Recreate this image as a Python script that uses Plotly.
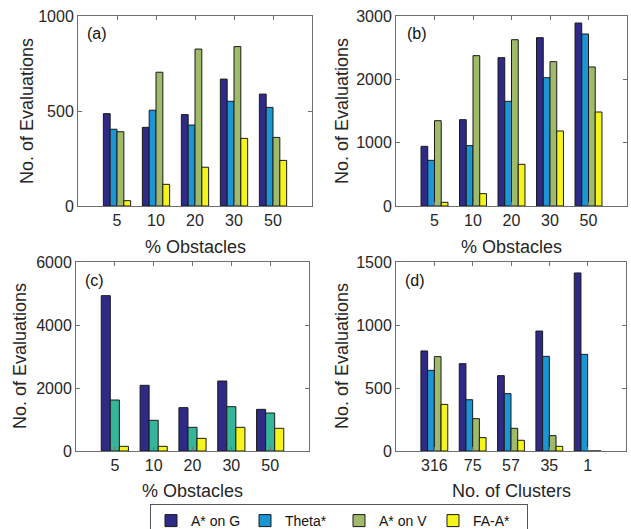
import plotly.graph_objects as go

# ---------------- data ----------------
obstacles = ["5", "10", "20", "30", "50"]
clusters = ["316", "75", "57", "35", "1"]

a_astar_g = [486, 414, 481, 668, 589]
a_theta = [404, 504, 426, 551, 519]
a_astar_v = [391, 704, 826, 839, 361]
a_fa = [28, 114, 204, 356, 240]

b_astar_g = [942, 1363, 2342, 2658, 2889]
b_theta = [721, 953, 1653, 2026, 2716]
b_astar_v = [1347, 2374, 2626, 2279, 2195]
b_fa = [58, 195, 658, 1184, 1484]

c_astar_g = [4931, 2085, 1376, 2222, 1323]
c_mid = [1619, 974, 751, 1407, 1206]
c_fa = [148, 148, 402, 751, 720]

d_astar_g = [794, 693, 598, 952, 1413]
d_theta = [640, 407, 455, 751, 767]
d_astar_v = [749, 257, 180, 122, 0]
d_fa = [370, 106, 85, 37, 0]

names = ["A* on G", "Theta*", "A* on V", "FA-A*"]
colors = ["#2e2a86", "#1b95d3", "#9fbb6a", "#f6f51a"]
teal = "#35b59a"

W, H = 631, 529
FONT = "Liberation Sans, Arial, sans-serif"
TXT = "#262626"
LINE = "#6e6e6e"

fig = go.Figure()

def px_x(v):
    return v / W

def px_y(v):
    return 1 - v / H

panels = [
    # (xaxis id, yaxis id, left, right, top, bottom)
    ("x", "y", 78, 312, 16, 206),
    ("x2", "y2", 396, 627, 16, 206),
    ("x3", "y3", 76, 309, 262, 451),
    ("x4", "y4", 396, 626, 262, 451),
]

pos = list(range(5))

def add_bars(panel_idx, series, cols, nms, show):
    xa, ya = panels[panel_idx][0], panels[panel_idx][1]
    for vals, c, n in zip(series, cols, nms):
        fig.add_trace(go.Bar(
            x=pos, y=vals, name=n, marker=dict(color=c, line=dict(color="#1a1a1a", width=1)),
            xaxis=xa, yaxis=ya, showlegend=show, legendgroup=n,
        ))

add_bars(0, [a_astar_g, a_theta, a_astar_v, a_fa], colors, names, True)
add_bars(1, [b_astar_g, b_theta, b_astar_v, b_fa], colors, names, False)
add_bars(2, [c_astar_g, c_mid, c_fa], [colors[0], teal, colors[3]], [names[0], "Theta*", names[3]], False)
add_bars(3, [d_astar_g, d_theta, d_astar_v, d_fa], colors, names, False)

yranges = [(1000, 500), (3000, 1000), (6000, 2000), (1500, 500)]
xlabels = [obstacles, obstacles, obstacles, clusters]

layout = dict(
    width=W, height=H,
    margin=dict(l=0, r=0, t=0, b=0, autoexpand=False),
    paper_bgcolor="white", plot_bgcolor="white",
    barmode="group", bargap=0.3, bargroupgap=0,
    font=dict(family=FONT, color=TXT, size=16),
    showlegend=True,
    legend=dict(
        orientation="h", x=px_x(150), xanchor="left", y=px_y(504), yanchor="top",
        bordercolor="#555555", borderwidth=1, bgcolor="white",
        font=dict(size=14, family=FONT, color="#111111"),
        itemwidth=30, tracegroupgap=0, traceorder="normal",
        entrywidth=49,
    ),
)

for i, (xa, ya, l, r, t, b) in enumerate(panels):
    xk = "xaxis" if i == 0 else f"xaxis{i+1}"
    yk = "yaxis" if i == 0 else f"yaxis{i+1}"
    ymax, dt = yranges[i]
    layout[xk] = dict(
        domain=[px_x(l), px_x(r)], anchor=ya, range=[-1, 5],
        tickmode="array", tickvals=pos, ticktext=xlabels[i],
        showline=True, linecolor=LINE, linewidth=1, mirror="ticks",
        ticks="inside", ticklen=4, tickcolor=LINE, showgrid=False, zeroline=False,
        tickfont=dict(size=16, family=FONT, color=TXT), automargin=False,
    )
    layout[yk] = dict(
        domain=[px_y(b), px_y(t)], anchor=xa, range=[0, ymax],
        tickmode="linear", tick0=0, dtick=dt,
        showline=True, linecolor=LINE, linewidth=1, mirror="ticks",
        ticks="inside", ticklen=4, tickcolor=LINE, showgrid=False, zeroline=False,
        tickfont=dict(size=16, family=FONT, color=TXT), automargin=False,
    )

fig.update_layout(**layout)

ann = []
# panel labels
for txt, x, y in [("(a)", 85, 34), ("(b)", 405, 34), ("(c)", 83, 280), ("(d)", 403, 280)]:
    ann.append(dict(text=txt, x=px_x(x), y=px_y(y), xref="paper", yref="paper",
                    xanchor="left", yanchor="middle", showarrow=False,
                    font=dict(size=16, family=FONT, color="#111111")))
# x titles
for txt, x, y in [("% Obstacles", 195, 247), ("% Obstacles", 511, 247),
                  ("% Obstacles", 192, 491), ("No. of Clusters", 511, 491)]:
    ann.append(dict(text=txt, x=px_x(x), y=px_y(y), xref="paper", yref="paper",
                    xanchor="center", yanchor="middle", showarrow=False,
                    font=dict(size=18, family=FONT, color=TXT)))
# y titles
for x, y in [(27, 111), (342, 111), (20, 356), (342, 356)]:
    ann.append(dict(text="No. of Evaluations", x=px_x(x), y=px_y(y), xref="paper", yref="paper",
                    xanchor="center", yanchor="middle", showarrow=False, textangle=-90,
                    font=dict(size=18, family=FONT, color=TXT)))
fig.update_layout(annotations=ann)

fig.write_html("out.html")
